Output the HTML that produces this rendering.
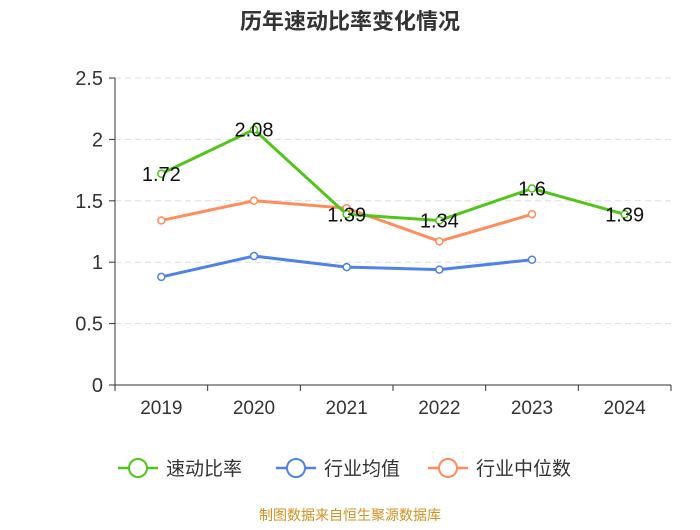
<!DOCTYPE html>
<html><head><meta charset="utf-8"><style>
body{margin:0;background:#fff;width:700px;height:525px;overflow:hidden;font-family:"Liberation Sans","Noto Sans CJK SC",sans-serif}
</style></head><body>
<svg width="700" height="525" font-family="Liberation Sans, Noto Sans CJK SC, sans-serif">
<text x="350" y="29" text-anchor="middle" font-size="22" font-weight="bold" fill="#333">历年速动比率变化情况</text>
<g id="grid"></g><g id="axes"></g><g id="series"></g>
<g>
<g><line x1="118" y1="468" x2="158" y2="468" stroke="#52c41a" stroke-width="2.5"/><circle cx="138" cy="468" r="9" fill="#fff" stroke="#52c41a" stroke-width="2"/><text x="166" y="475" font-size="19" fill="#333">速动比率</text></g>
<g><line x1="276" y1="468" x2="316" y2="468" stroke="#4e82e8" stroke-width="2.5"/><circle cx="296" cy="468" r="9" fill="#fff" stroke="#4e82e8" stroke-width="2"/><text x="324" y="475" font-size="19" fill="#333">行业均值</text></g>
<g><line x1="428" y1="468" x2="468" y2="468" stroke="#ff8c5a" stroke-width="2.5"/><circle cx="448" cy="468" r="9" fill="#fff" stroke="#ff8c5a" stroke-width="2"/><text x="476" y="475" font-size="19" fill="#333">行业中位数</text></g>
</g>
<text x="350" y="520" text-anchor="middle" font-size="14" fill="#d4901e">制图数据来自恒生聚源数据库</text>
</svg>
<script>
const categories=["2019","2020","2021","2022","2023","2024"];
const quickRatio=[1.72,2.08,1.39,1.34,1.6,1.39];
const industryMean=[0.88,1.05,0.96,0.94,1.02];
const industryMedian=[1.34,1.50,1.44,1.17,1.39];
const yTicks=[0,0.5,1,1.5,2,2.5];
const NS="http://www.w3.org/2000/svg";
const x0=115,x1=671,yBot=385,yTop=78,yMax=2.5;
const band=(x1-x0)/categories.length;
const X=i=>x0+band*(i+0.5);
const Y=v=>yBot-(v/yMax)*(yBot-yTop);
function mk(tag,attrs,parent){const e=document.createElementNS(NS,tag);for(const k in attrs)e.setAttribute(k,attrs[k]);parent.appendChild(e);return e;}
const grid=document.getElementById('grid'),axes=document.getElementById('axes'),ser=document.getElementById('series');
yTicks.forEach(t=>{
 if(t>0){const g=mk('line',{x1:x0,x2:x1,y1:Y(t),y2:Y(t),stroke:'#ddd','stroke-dasharray':'6,4'},grid);
 
 }
 const l=mk('text',{x:x0-12,y:Y(t)+7,'text-anchor':'end','font-size':'20',fill:'#333'},axes);l.textContent=t;
 
 
 mk('line',{x1:x0-6,x2:x0,y1:Y(t),y2:Y(t),stroke:'#333'},axes);
});
mk('line',{x1:x0,x2:x0,y1:yTop,y2:yBot,stroke:'#333'},axes);
mk('line',{x1:x0,x2:x1,y1:yBot,y2:yBot,stroke:'#333'},axes);
categories.forEach((c,i)=>{
 mk('line',{x1:x0+band*i,x2:x0+band*i,y1:yBot,y2:yBot+6,stroke:'#333'},axes);
 const l=mk('text',{x:X(i),y:yBot+29,'text-anchor':'middle','font-size':'19',fill:'#333'},axes);l.textContent=c;
 
 
});
mk('line',{x1:x1,x2:x1,y1:yBot,y2:yBot+6,stroke:'#333'},axes);
function line(vals,color,name,labels){
 const p=mk('polyline',{points:vals.map((v,i)=>X(i)+','+Y(v)).join(' '),fill:'none',stroke:color,'stroke-width':3},ser);
 
 
 vals.forEach((v,i)=>{
  const c=mk('circle',{cx:X(i),cy:Y(v),r:3.5,fill:'#fff',stroke:color,'stroke-width':1.5},ser);
  
  
  if(labels){const t=mk('text',{x:X(i),y:Y(v)+7,'text-anchor':'middle','font-size':'20',fill:'#111'},ser);t.textContent=v;
  
  }
 });
}
line(industryMean,'#4e82e8','industry-mean',false);
line(industryMedian,'#ff8c5a','industry-median',false);
line(quickRatio,'#52c41a','quick-ratio',true);
</script>
</body></html>
